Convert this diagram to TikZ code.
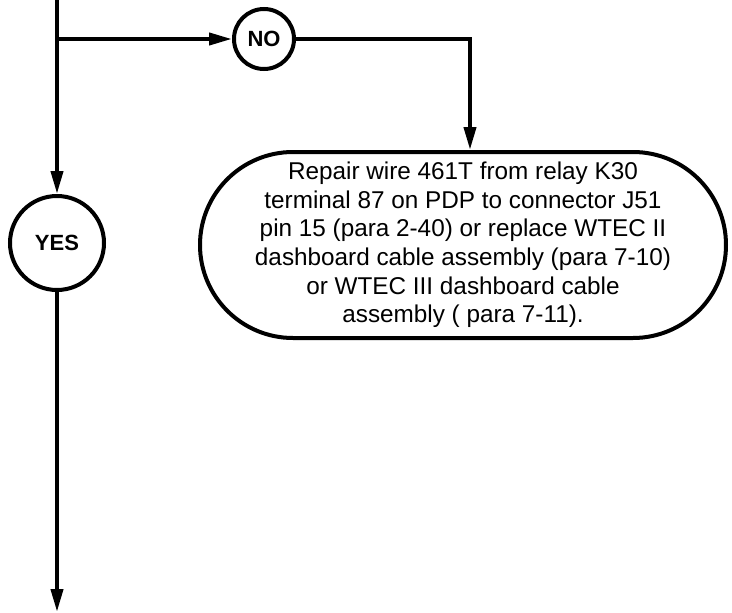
\documentclass[tikz,border=0pt]{standalone}
\usepackage{fontspec}
\setsansfont{Liberation Sans}
\usetikzlibrary{arrows.meta}
\begin{document}
\begin{tikzpicture}[x=1pt,y=-1pt,
  line/.style={line width=4pt},
  arr/.style={line,-{Triangle[length=23pt 0 0,width=12pt 0 0]}},
  yesno/.style={circle,draw,line width=4pt,inner sep=0pt,font=\sffamily\bfseries\fontsize{22}{26}\selectfont},
  action/.style={draw,line width=4pt,rounded corners=93pt,minimum width=526pt,minimum height=186pt,inner sep=0pt,align=center,font=\sffamily\fontsize{24.3}{28.6}\selectfont}]
\useasboundingbox (0,0) rectangle (732,613);
\node[yesno,minimum size=60pt] (no) at (264,39) {NO};
\node[yesno,minimum size=94pt] (yes) at (57,243) {YES};
\node[action] (fix) at (463,245) {Repair wire 461T from relay K30\\terminal 87 on PDP to connector J51\\pin 15 (para 2-40) or replace WTEC II\\dashboard cable assembly (para 7-10)\\or WTEC III dashboard cable\\assembly ( para 7-11).};
\coordinate (top) at (57,0);
\coordinate (j) at (57,39);
\coordinate (k) at (470,39);
\coordinate (end) at (57,612);
\draw[arr] (top) -- (yes);
\draw[arr] (j) -- (no);
\draw[arr] (no) -- (k) -- (k |- fix.north);
\draw[arr] (yes) -- (end);
\end{tikzpicture}
\end{document}
